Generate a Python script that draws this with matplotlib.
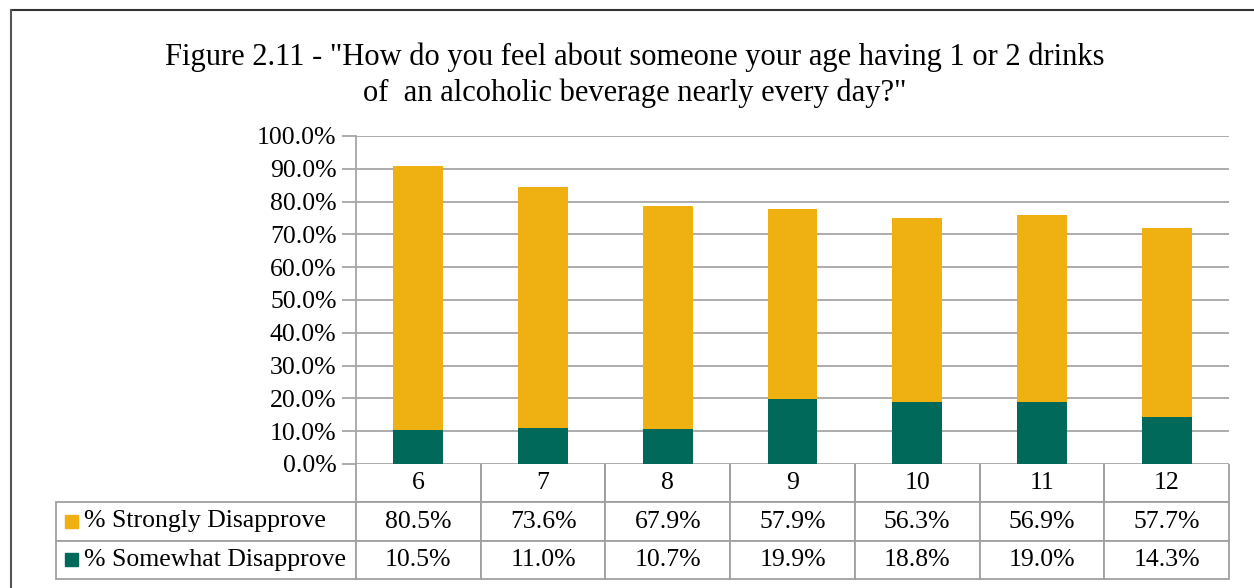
import matplotlib.pyplot as plt
from matplotlib.patches import Rectangle
from matplotlib.lines import Line2D

plt.rcParams["font.family"] = ["Liberation Serif", "DejaVu Serif"]

grades = ["6", "7", "8", "9", "10", "11", "12"]
strongly = [80.5, 73.6, 67.9, 57.9, 56.3, 56.9, 57.7]
somewhat = [10.5, 11.0, 10.7, 19.9, 18.8, 19.0, 14.3]
series_names = ["% Strongly Disapprove", "% Somewhat Disapprove"]
yticks = [0, 10, 20, 30, 40, 50, 60, 70, 80, 90, 100]

YELLOW = "#EFB112"
GREEN = "#00695A"
GRID = "#A6A6A6"

W, H = 1254, 588
fig = plt.figure(figsize=(W / 100, H / 100), dpi=100)

# plot area in pixel terms
x0, x1, ytop, ybot = 356, 1229, 136, 464
ax = fig.add_axes([x0 / W, 1 - ybot / H, (x1 - x0) / W, (ybot - ytop) / H])

x = range(len(grades))
ax.bar(x, somewhat, width=0.4, color=GREEN, zorder=3)
ax.bar(x, strongly, width=0.4, bottom=somewhat, color=YELLOW, zorder=3)

ax.set_xlim(-0.5, len(grades) - 0.5)
ax.set_ylim(0, 100)
ax.set_yticks(yticks)
ax.set_yticklabels([f"{v:.1f}%" for v in yticks], fontsize=18.5)
ax.set_xticks([])
ax.yaxis.grid(True, color=GRID, linewidth=1.3, zorder=0)
ax.tick_params(axis="y", length=10, width=1.3, color=GRID, pad=4)
for side in ["top", "right", "bottom"]:
    ax.spines[side].set_visible(False)
ax.spines["left"].set_color(GRID)
ax.spines["left"].set_linewidth(1.3)

# data table under the bars
label_w = (x0 - 56) / (x1 - x0)
col_w = 1 / len(grades)
cell_text = [[""] + grades,
             [""] + [f"{v:.1f}%" for v in strongly],
             [""] + [f"{v:.1f}%" for v in somewhat]]
tab_h = (579 - 464) / (ybot - ytop)
table = ax.table(cellText=cell_text, colWidths=[label_w] + [col_w] * len(grades),
                 cellLoc="center", bbox=[-label_w, -tab_h, 1 + label_w, tab_h])
table.auto_set_font_size(False)
for (r, c), cell in table.get_celld().items():
    cell.set_edgecolor("#A0A0A0")
    cell.set_linewidth(1.3)
    cell.get_text().set_fontsize(18.5)
    if r == 0 and c == 0:
        cell.visible_edges = ""
    elif r == 0:
        cell.visible_edges = "LRB"

row_h = tab_h / 3
for i, (name, color) in enumerate(zip(series_names, [YELLOW, GREEN])):
    yc = -tab_h + row_h * (1.5 - i)
    sq = 13 / (x1 - x0)
    sq_h = 13 / (ybot - ytop)
    ax.add_patch(Rectangle((-label_w + 9 / (x1 - x0), yc - sq_h / 2), sq, sq_h,
                           transform=ax.transAxes, color=color, clip_on=False))
    ax.text(-label_w + 28 / (x1 - x0), yc, name, transform=ax.transAxes,
            fontsize=18.5, va="center", ha="left")

fig.text(0.506, 1 - 75 / H,
         'Figure 2.11 - "How do you feel about someone your age having 1 or 2 drinks\n'
         'of  an alcoholic beverage nearly every day?"',
         ha="center", va="center", fontsize=22, linespacing=1.3)

# outer frame
fig.add_artist(Line2D([11 / W, 1], [1 - 10 / H, 1 - 10 / H], color="#333333", linewidth=1.5))
fig.add_artist(Line2D([11 / W, 11 / W], [0, 1 - 10 / H], color="#555555", linewidth=1.5))

fig.savefig("out.png", dpi=100)
